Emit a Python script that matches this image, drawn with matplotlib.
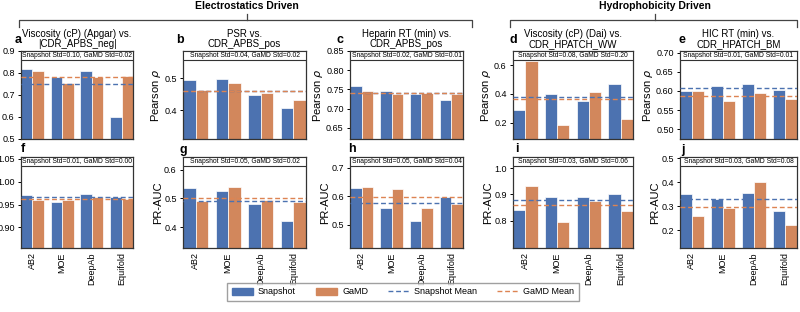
import numpy as np
import matplotlib
matplotlib.use('Agg')
import matplotlib.pyplot as plt
from matplotlib.patches import Rectangle, Patch
from matplotlib.lines import Line2D

plt.rcParams['font.family'] = ['Liberation Sans', 'DejaVu Sans']

# ---- data ----
methods = ['AB2', 'MOE', 'DeepAb', 'Equifold']
letters = ['a', 'b', 'c', 'd', 'e', 'f', 'g', 'h', 'i', 'j']
titles = ['Viscosity (cP) (Apgar) vs.\n|CDR_APBS_neg|',
          'PSR vs.\nCDR_APBS_pos',
          'Heparin RT (min) vs.\nCDR_APBS_pos',
          'Viscosity (cP) (Dai) vs.\nCDR_HPATCH_WW',
          'HIC RT (min) vs.\nCDR_HPATCH_BM']
snapshot = [
    [0.817, 0.782, 0.807, 0.600],
    [0.495, 0.497, 0.446, 0.408],
    [0.758, 0.747, 0.737, 0.7215],
    [0.290, 0.400, 0.353, 0.470],
    [0.599, 0.614, 0.6185, 0.602],
    [0.971, 0.9565, 0.9726, 0.967],
    [0.537, 0.5265, 0.481, 0.423],
    [0.630, 0.558, 0.515, 0.5975],
    [0.841, 0.8886, 0.891, 0.900],
    [0.350, 0.332, 0.3545, 0.2826],
]
gamd = [
    [0.807, 0.756, 0.782, 0.787],
    [0.463, 0.486, 0.453, 0.432],
    [0.747, 0.737, 0.7415, 0.737],
    [0.627, 0.182, 0.416, 0.227],
    [0.599, 0.574, 0.594, 0.579],
    [0.960, 0.961, 0.967, 0.963],
    [0.4906, 0.540, 0.495, 0.486],
    [0.633, 0.625, 0.558, 0.573],
    [0.934, 0.794, 0.8763, 0.837],
    [0.262, 0.295, 0.4025, 0.2236],
]
std_text = ['Snapshot Std=0.10, GaMD Std=0.02',
            'Snapshot Std=0.04, GaMD Std=0.02',
            'Snapshot Std=0.02, GaMD Std=0.01',
            'Snapshot Std=0.08, GaMD Std=0.20',
            'Snapshot Std=0.01, GaMD Std=0.01',
            'Snapshot Std=0.01, GaMD Std=0.00',
            'Snapshot Std=0.05, GaMD Std=0.02',
            'Snapshot Std=0.05, GaMD Std=0.04',
            'Snapshot Std=0.03, GaMD Std=0.06',
            'Snapshot Std=0.03, GaMD Std=0.08']
ylims = [(0.5, 0.9), (0.31, 0.585), (0.621, 0.846), (0.086, 0.698), (0.4745, 0.704),
         (0.855, 1.054), (0.327, 0.645), (0.419, 0.737), (0.695, 1.043), (0.127, 0.505)]
yticks = [[0.5, 0.6, 0.7, 0.8, 0.9], [0.4, 0.5], [0.65, 0.70, 0.75, 0.80, 0.85],
          [0.2, 0.4, 0.6], [0.50, 0.55, 0.60, 0.65, 0.70],
          [0.90, 0.95, 1.00, 1.05], [0.4, 0.5, 0.6], [0.5, 0.6, 0.7],
          [0.8, 0.9, 1.0], [0.2, 0.3, 0.4, 0.5]]
ytick_fmt = ['%.1f', '%.1f', '%.2f', '%.1f', '%.2f', '%.2f', '%.1f', '%.1f', '%.1f', '%.1f']
ylabels = ['Pearson $\\rho$', 'PR-AUC']

BLUE = '#4C72B0'
ORANGE = '#D2875C'
ORANGE_LINE = '#DD8452'

# ---- layout (pixels) ----
W, H = 800, 312
cols = [(21, 133), (183, 306), (350, 463), (513, 633), (680, 797)]
rows = [(51, 139), (157, 248)]
letter_pos = [(18, 40), (180, 40), (340, 40), (513, 40), (682, 40),
              (23, 149), (183, 150), (352, 149), (517, 149), (683, 150)]

fig = plt.figure(figsize=(W / 100, H / 100), dpi=100)

w = 0.385
x = np.arange(len(methods))
for k in range(10):
    r, c = divmod(k, 5)
    x0, x1 = cols[c]
    y0, y1 = rows[r]
    ax = fig.add_axes([x0 / W, 1 - y1 / H, (x1 - x0) / W, (y1 - y0) / H])
    s = np.array(snapshot[k])
    g = np.array(gamd[k])
    ax.bar(x - w / 2, s, w, color=BLUE, edgecolor='white', linewidth=0.5, zorder=2)
    ax.bar(x + w / 2, g, w, color=ORANGE, edgecolor='white', linewidth=0.5, zorder=2)
    ax.axhline(s.mean(), color=BLUE, ls=(0, (3.5, 2)), lw=1, zorder=3)
    ax.axhline(g.mean(), color=ORANGE_LINE, ls=(0, (3.5, 2)), lw=1, zorder=3)
    ax.set_xlim(-w, len(methods) - 1 + w)
    ax.set_ylim(*ylims[k])
    ax.set_yticks(yticks[k])
    ax.set_yticklabels([ytick_fmt[k] % t for t in yticks[k]], fontsize=6.5)
    ax.tick_params(axis='y', length=2.5, width=0.7, pad=2)
    ax.set_xticks(x)
    if r == 1:
        ax.set_xticklabels(methods, rotation=90, fontsize=6.5)
    else:
        ax.set_xticklabels([])
        ax.set_title(titles[c], fontsize=7, pad=3, linespacing=1.0)
    ax.tick_params(axis='x', length=0, pad=3)
    for sp in ax.spines.values():
        sp.set_linewidth(0.9)
        sp.set_color('#333333')
    if c > 0:
        ax.set_ylabel(ylabels[r], fontsize=8, labelpad=1)
    # std box across the top of the axes
    bh = 9 / (y1 - y0)
    ax.add_patch(Rectangle((0, 1 - bh), 1, bh, transform=ax.transAxes,
                           facecolor='white', edgecolor='#333333', lw=0.8, zorder=5))
    ax.text(0.5, 1 - bh / 2, std_text[k], transform=ax.transAxes, ha='center',
            va='center', fontsize=4.9, zorder=6)
    lx, ly = letter_pos[k]
    fig.text(lx / W, 1 - ly / H, letters[k], fontsize=9, fontweight='bold',
             ha='center', va='center')

# group headers with brackets
headers = [('Electrostatics Driven', 19, 472, 247), ('Hydrophobicity Driven', 510, 797, 655)]
for label, bx0, bx1, bxm in headers:
    fig.text(bxm / W, 1 - 6 / H, label, fontsize=7.5, fontweight='bold',
             ha='center', va='center')
    yb = 1 - 20 / H
    yd = 1 - 27 / H
    yu = 1 - 14 / H
    fig.add_artist(Line2D([bx0 / W, bx0 / W, bx1 / W, bx1 / W], [yd, yb, yb, yd],
                          color='#444444', lw=0.9, transform=fig.transFigure))
    fig.add_artist(Line2D([bxm / W, bxm / W], [yb, yu], color='#444444', lw=0.9,
                          transform=fig.transFigure))

handles = [Patch(color=BLUE, label='Snapshot'),
           Patch(color=ORANGE, label='GaMD'),
           Line2D([], [], color=BLUE, ls=(0, (3.5, 2)), lw=1, label='Snapshot Mean'),
           Line2D([], [], color=ORANGE_LINE, ls=(0, (3.5, 2)), lw=1, label='GaMD Mean')]
fig.legend(handles=handles, loc='center', bbox_to_anchor=(403 / W, 1 - 292 / H),
           ncol=4, fontsize=6.5, frameon=True, edgecolor='#888888', fancybox=False,
           handlelength=2.3, columnspacing=2.2, handletextpad=0.6, borderpad=0.5)

fig.savefig('out.png', dpi=100)
